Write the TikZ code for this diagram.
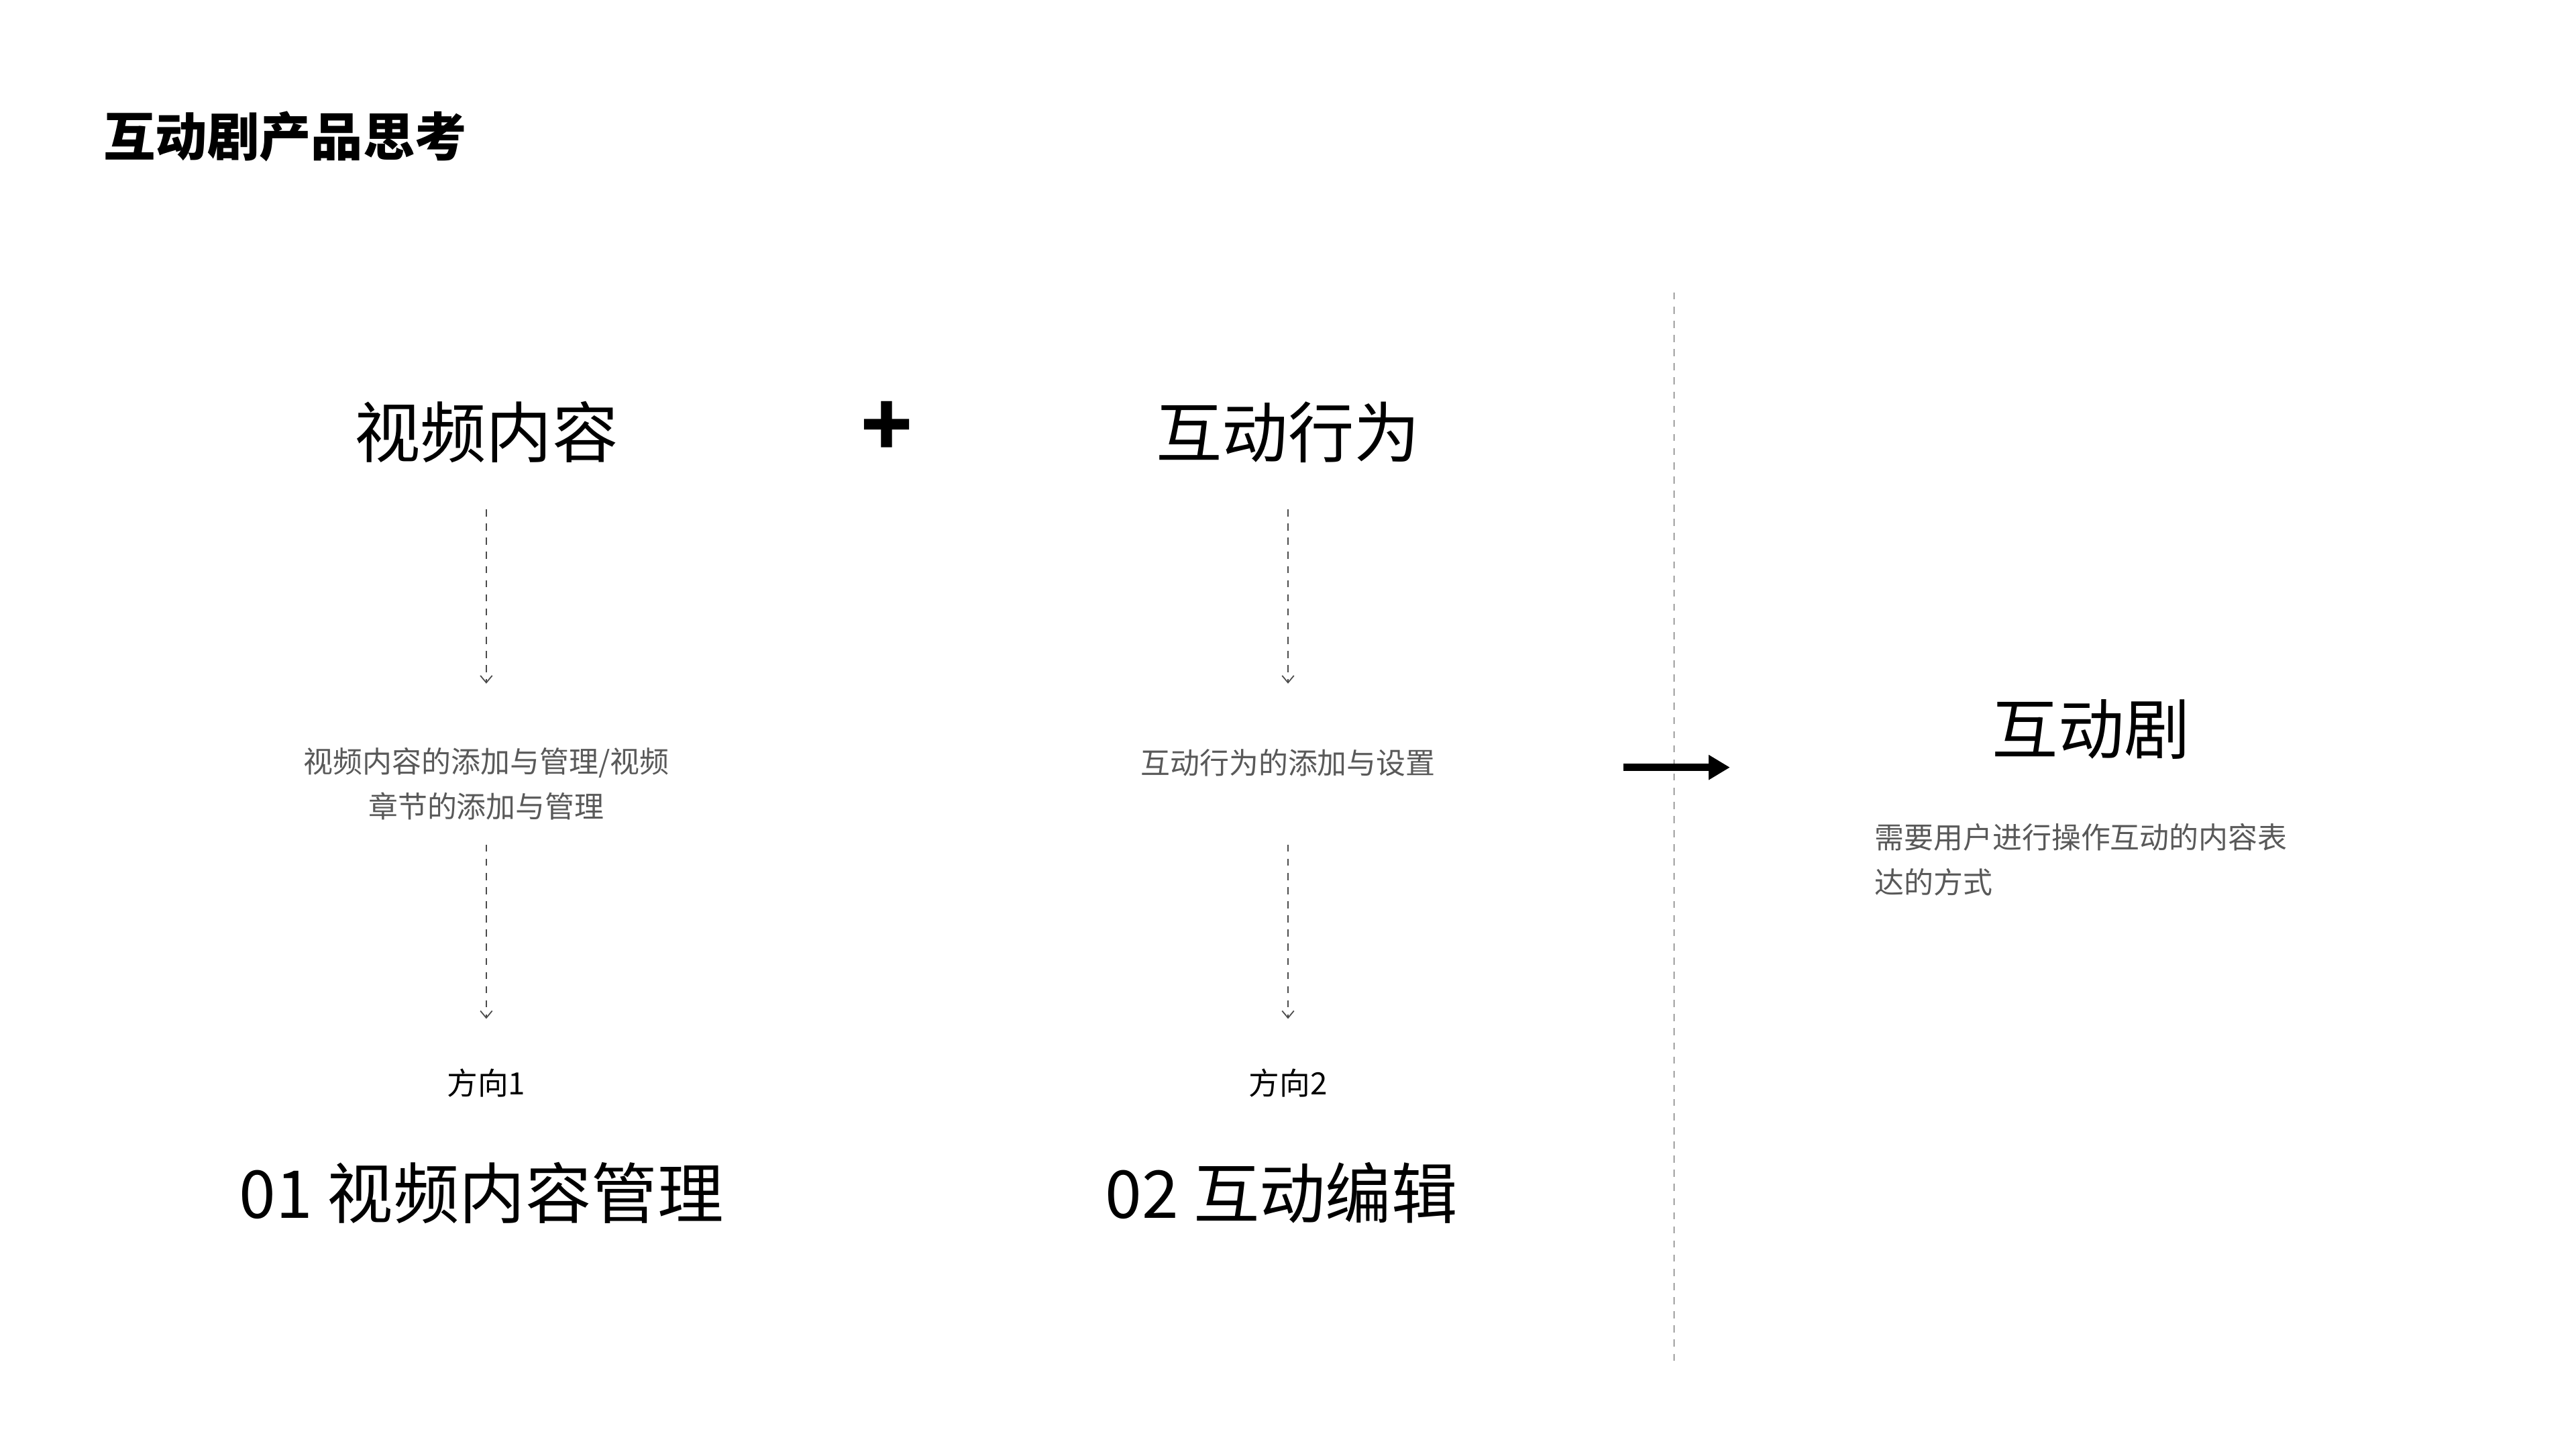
\documentclass[tikz,border=0pt]{standalone}
\usepackage{fontspec}
\setmainfont{Noto Sans CJK SC}
\usetikzlibrary{arrows.meta}
\begin{document}
\begin{tikzpicture}[x=0.02449cm,y=-0.02449cm,
 big/.style={font=\fontsize{28}{32}\selectfont, text=black},
 gray/.style={font=\fontsize{12.5}{19}\selectfont, text=black!65, align=center},
 dir/.style={font=\fontsize{13}{16}\selectfont},
 darr/.style={dashed, draw=black!70, line width=0.5pt, -{Straight Barb[length=3pt,width=5pt]}}]
\useasboundingbox (0,0) rectangle (1568,882);
\node[anchor=west, font=\fontsize{22}{26}\selectfont\bfseries] (title) at (58,83) {互动剧产品思考};
\node[big] (a) at (296,263) {视频内容};
\node[font=\fontsize{36}{36}\selectfont\bfseries] (plus) at (540,261) {+};
\node[big] (b) at (784,263) {互动行为};
\coordinate (a1) at (296,310); \coordinate (a2) at (296,416);
\coordinate (a3) at (296,514); \coordinate (a4) at (296,620);
\coordinate (b1) at (784,310); \coordinate (b2) at (784,416);
\coordinate (b3) at (784,514); \coordinate (b4) at (784,620);
\draw[darr] (a1) -- (a2); \draw[darr] (a3) -- (a4);
\draw[darr] (b1) -- (b2); \draw[darr] (b3) -- (b4);
\node[gray] (at) at (296,477) {视频内容的添加与管理/视频\\章节的添加与管理};
\node[gray] (bt) at (784,464) {互动行为的添加与设置};
\node[dir] (ad) at (296,659) {方向1};
\node[dir] (bd) at (784,659) {方向2};
\node[big] (af) at (293,726) {01 视频内容管理};
\node[big] (bf) at (780,726) {02 互动编辑};
\coordinate (v1) at (1019,178); \coordinate (v2) at (1019,828);
\draw[dashed, draw=black!70, line width=0.5pt] (v1) -- (v2);
\coordinate (h1) at (988,467); \coordinate (h2) at (1053,467);
\draw[line width=3pt, -{Triangle[length=9pt,width=10pt]}] (h1) -- (h2);
\node[big] (c) at (1273,444) {互动剧};
\node[gray, align=left, anchor=north west] (ct) at (1136,496) {需要用户进行操作互动的内容表\\达的方式};
\end{tikzpicture}
\end{document}
